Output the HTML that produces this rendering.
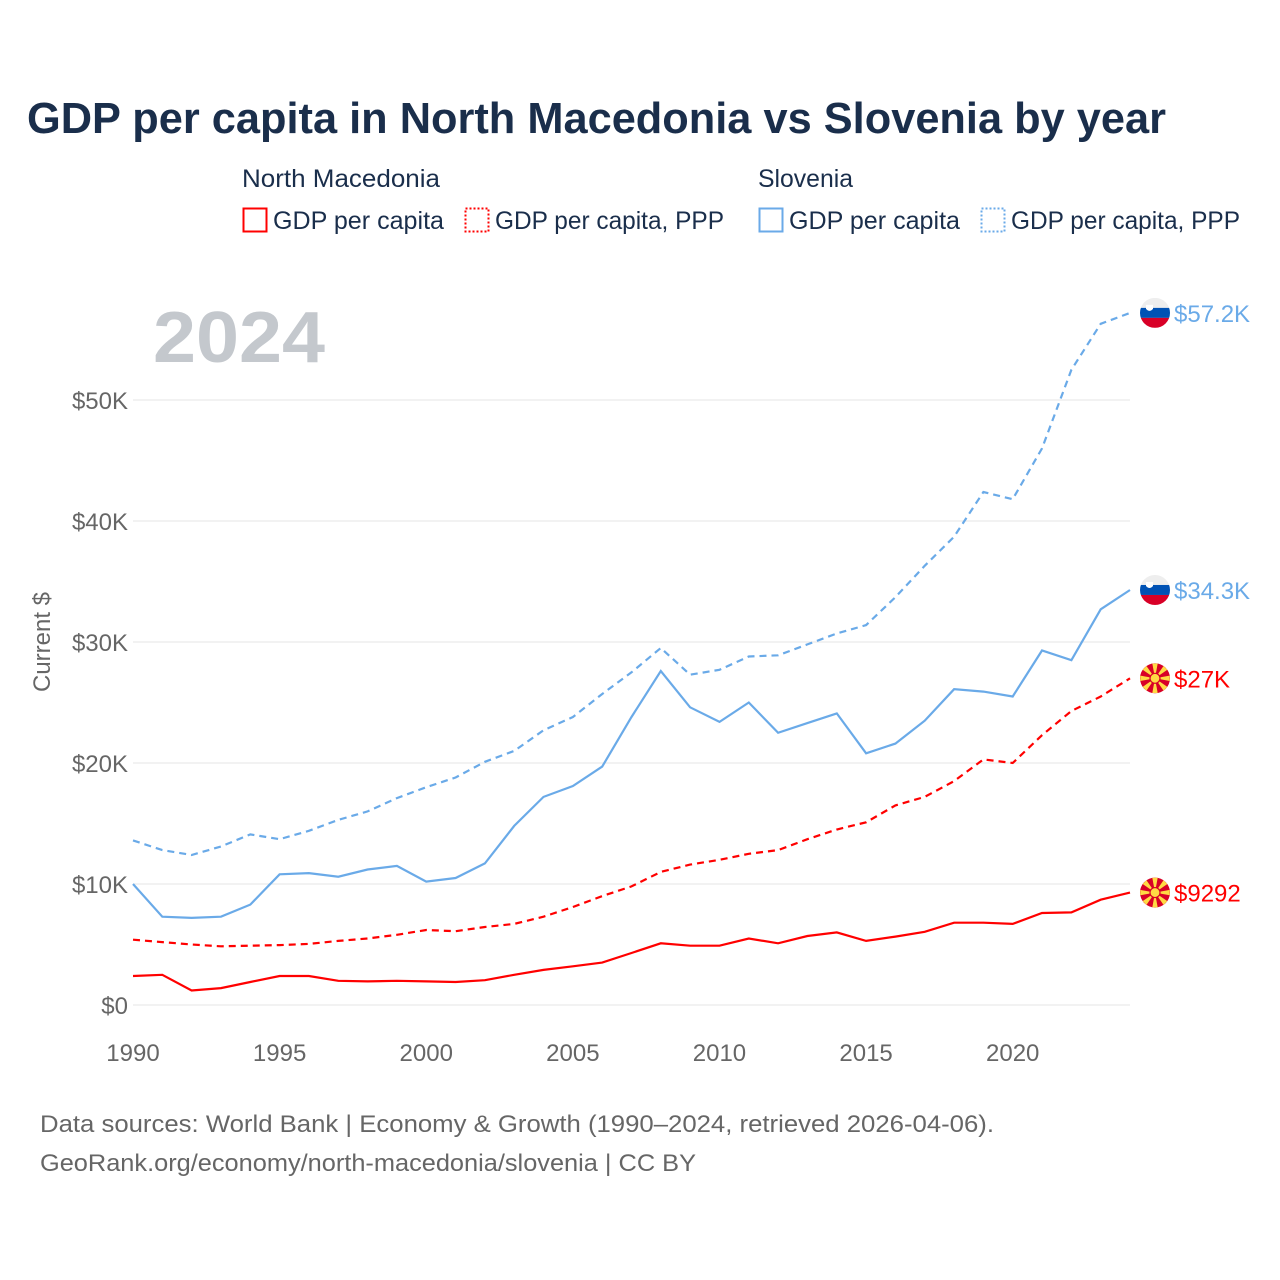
<!DOCTYPE html>
<html><head><meta charset="utf-8"><style>
html,body{margin:0;padding:0;background:#fff;}
svg{display:block;font-family:"Liberation Sans",sans-serif;}
</style></head><body>
<svg id="chart" width="1280" height="1280" viewBox="0 0 1280 1280">
<text x="27" y="133" font-size="44" font-weight="bold" fill="#1a2e4b" textLength="1139" lengthAdjust="spacingAndGlyphs">GDP per capita in North Macedonia vs Slovenia by year</text>
<g fill="#1a2e4b" font-size="25">
<text x="242" y="187" textLength="198" lengthAdjust="spacingAndGlyphs">North Macedonia</text>
<text x="758" y="187" textLength="95" lengthAdjust="spacingAndGlyphs">Slovenia</text>
<g><rect x="243.5" y="208.5" width="23" height="23" fill="none" stroke="#ff0000" stroke-width="2"/><text x="273" y="229" textLength="171" lengthAdjust="spacingAndGlyphs">GDP per capita</text></g>
<g><rect x="465.5" y="208.5" width="23" height="23" fill="none" stroke="#ff0000" stroke-width="2" stroke-dasharray="2,2"/><text x="495" y="229" textLength="229" lengthAdjust="spacingAndGlyphs">GDP per capita, PPP</text></g>
<g><rect x="759.5" y="208.5" width="23" height="23" fill="none" stroke="#6aaae8" stroke-width="2"/><text x="789" y="229" textLength="171" lengthAdjust="spacingAndGlyphs">GDP per capita</text></g>
<g><rect x="981.5" y="208.5" width="23" height="23" fill="none" stroke="#6aaae8" stroke-width="2" stroke-dasharray="2,2"/><text x="1011" y="229" textLength="229" lengthAdjust="spacingAndGlyphs">GDP per capita, PPP</text></g>
</g>
<text x="153" y="362" font-size="72" font-weight="bold" fill="#c4c8cd" textLength="172" lengthAdjust="spacingAndGlyphs">2024</text>
<text transform="translate(50,642) rotate(-90)" text-anchor="middle" font-size="24" fill="#666">Current $</text>
<g id="grid"></g><g id="series"></g><g id="labels"></g>
<text x="40" y="1132" font-size="24" fill="#666" textLength="954" lengthAdjust="spacingAndGlyphs">Data sources: World Bank | Economy &amp; Growth (1990–2024, retrieved 2026-04-06).</text>
<text x="40" y="1171" font-size="24" fill="#666" textLength="656" lengthAdjust="spacingAndGlyphs">GeoRank.org/economy/north-macedonia/slovenia | CC BY</text>
</svg>
<script>
const years=[1990,1991,1992,1993,1994,1995,1996,1997,1998,1999,2000,2001,2002,2003,2004,2005,2006,2007,2008,2009,2010,2011,2012,2013,2014,2015,2016,2017,2018,2019,2020,2021,2022,2023,2024];
const siGdp=[10.0,7.3,7.2,7.3,8.3,10.8,10.9,10.6,11.2,11.5,10.2,10.5,11.7,14.8,17.2,18.1,19.7,23.8,27.6,24.6,23.4,25.0,22.5,23.3,24.1,20.8,21.6,23.5,26.1,25.9,25.5,29.3,28.5,32.7,34.3];
const siPpp=[13.6,12.8,12.4,13.1,14.1,13.7,14.4,15.3,16.0,17.1,18.0,18.8,20.1,21.0,22.7,23.8,25.7,27.5,29.5,27.3,27.7,28.8,28.9,29.8,30.7,31.4,33.7,36.3,38.7,42.4,41.8,46.0,52.5,56.3,57.2];
const mkGdp=[2.4,2.5,1.2,1.4,1.9,2.4,2.4,2.0,1.95,2.0,1.95,1.9,2.05,2.5,2.9,3.2,3.5,4.3,5.1,4.9,4.9,5.5,5.1,5.7,6.0,5.3,5.65,6.05,6.8,6.8,6.7,7.6,7.65,8.7,9.292];
const mkPpp=[5.4,5.2,5.0,4.85,4.9,4.95,5.05,5.3,5.5,5.8,6.2,6.1,6.45,6.7,7.3,8.1,9.0,9.8,11.0,11.6,12.0,12.5,12.8,13.7,14.5,15.1,16.5,17.2,18.5,20.3,20.0,22.3,24.3,25.5,27.0];
const yTicks=[0,10,20,30,40,50];
const yTickLabels=["$0","$10K","$20K","$30K","$40K","$50K"];
const xTicks=[1990,1995,2000,2005,2010,2015,2020];
const endLabels=["$34.3K","$57.2K","$9292","$27K"];
const NS="http://www.w3.org/2000/svg";
const x=v=>133+(v-1990)*(1130-133)/34;
const y=v=>1005-v*12.1;
function mk(tag,attrs,parent){const e=document.createElementNS(NS,tag);for(const k in attrs)e.setAttribute(k,attrs[k]);parent.appendChild(e);return e;}
const grid=document.getElementById('grid'),ser=document.getElementById('series'),lab=document.getElementById('labels');
yTicks.forEach((t,i)=>{
 const l=mk('line',{x1:133,x2:1130,y1:y(t),y2:y(t),stroke:'#e4e4e4','stroke-width':1},grid);
 
 
 const tx=mk('text',{x:128,y:y(t)+9,'text-anchor':'end','font-size':24,fill:'#666'},grid);
 tx.textContent=yTickLabels[i];
 
 
});
xTicks.forEach(t=>{
 const tx=mk('text',{x:x(t),y:1061,'text-anchor':'middle','font-size':24,fill:'#666'},grid);
 tx.textContent=t;
 
 
});
const series=[[siGdp,'#6aaae8',null,'si'],[siPpp,'#6aaae8','7,5','si'],[mkGdp,'#ff0000',null,'mk'],[mkPpp,'#ff0000','7,5','mk']];
series.forEach((s,i)=>{
 const d=s[0].map((v,j)=>(j?'L':'M')+x(years[j]).toFixed(1)+','+y(v).toFixed(1)).join(' ');
 const p=mk('path',{d:d,fill:'none',stroke:s[1],'stroke-width':2.2},ser);
 if(s[2])p.setAttribute('stroke-dasharray',s[2]);
 
 
 const last=s[0][s[0].length-1];
 const cy=y(last),cx=1155;
 const g=mk('g',{},lab);
 
 
 if(s[3]==='si'){
  mk('clipPath',{id:'c'+i},g);
  mk('circle',{cx:cx,cy:cy,r:15},g.lastChild);
  const gg=mk('g',{'clip-path':'url(#c'+i+')'},g);
  mk('rect',{x:cx-15,y:cy-15,width:30,height:10,fill:'#eeeeee'},gg);
  mk('rect',{x:cx-15,y:cy-5,width:30,height:10,fill:'#0052b4'},gg);
  mk('rect',{x:cx-15,y:cy+5,width:30,height:10,fill:'#d80027'},gg);
  mk('path',{d:`M${cx-9},${cy-8} h7 v4 q-3.5,4 -7,0 z`,fill:'#fff'},gg);
 } else {
  mk('circle',{cx:cx,cy:cy,r:15,fill:'#d80027'},g);
  for(let k=0;k<8;k++){const a=k*Math.PI/4;const a1=a-0.18,a2=a+0.18;
   mk('path',{d:`M${cx},${cy} L${cx+15*Math.cos(a1)},${cy+15*Math.sin(a1)} L${cx+15*Math.cos(a2)},${cy+15*Math.sin(a2)} Z`,fill:'#ffda44'},g);}
  mk('circle',{cx:cx,cy:cy,r:5,fill:'#ffda44',stroke:'#d80027','stroke-width':1.2},g);
 }
 const t=mk('text',{x:1174,y:cy+9,'font-size':24,fill:s[1]},lab);
 t.textContent=endLabels[i];
 
 
});
</script>
</body></html>
